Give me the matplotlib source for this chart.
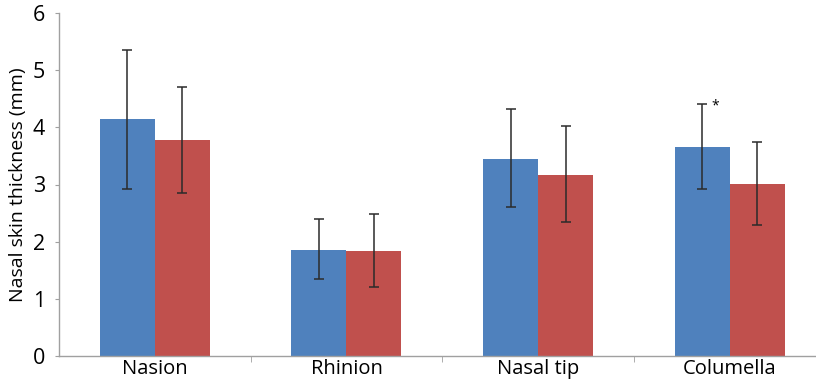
import matplotlib.pyplot as plt
import numpy as np

plt.rcParams['font.family'] = ['Open Sans', 'DejaVu Sans']

categories = ['Nasion', 'Rhinion', 'Nasal tip', 'Columella']
blue_vals = [4.14, 1.85, 3.45, 3.66]
red_vals = [3.78, 1.84, 3.17, 3.01]
blue_lo = [2.93, 1.34, 2.60, 2.92]
blue_hi = [5.35, 2.40, 4.32, 4.40]
red_lo = [2.86, 1.21, 2.34, 2.29]
red_hi = [4.71, 2.49, 4.02, 3.75]

x = np.arange(len(categories))
w = 0.287

blue_err = [np.subtract(blue_vals, blue_lo), np.subtract(blue_hi, blue_vals)]
red_err = [np.subtract(red_vals, red_lo), np.subtract(red_hi, red_vals)]

fig = plt.figure(figsize=(8.16, 3.81), dpi=100)
ax = fig.add_axes([59 / 816, 25 / 381, 1 - 59 / 816, 343 / 381])

ekw = dict(ecolor='#2b2b2b', elinewidth=1.1, capsize=3.5, capthick=1.1)
ax.bar(x - w / 2, blue_vals, w, color='#4f81bd', yerr=blue_err, error_kw=ekw)
ax.bar(x + w / 2, red_vals, w, color='#c0504d', yerr=red_err, error_kw=ekw)

# significance mark on Columella
ax.text(x[3] - w / 2 + 0.07, blue_hi[3] - 0.02, '*', ha='center', va='center', fontsize=10)

ax.set_xlim(-0.5, 3.45)
ax.set_ylim(0, 6)
ax.set_yticks(range(7))
ax.set_xticks(x)
ax.set_xticklabels(categories, fontsize=14.5)
ax.set_xticks(np.arange(0.5, 3.5, 1), minor=True)
ax.tick_params(axis='x', which='major', length=0, pad=2)
ax.tick_params(axis='x', which='minor', length=4, color='#a0a0a0', direction='out')
ax.tick_params(axis='y', labelsize=15.5, length=3, color='#a0a0a0', pad=7)
ax.set_ylabel('Nasal skin thickness (mm)', fontsize=14, labelpad=4)

for s in ['top', 'right']:
    ax.spines[s].set_visible(False)
for s in ['left', 'bottom']:
    ax.spines[s].set_color('#a0a0a0')
    ax.spines[s].set_linewidth(1)

fig.savefig('out.png', dpi=100)
